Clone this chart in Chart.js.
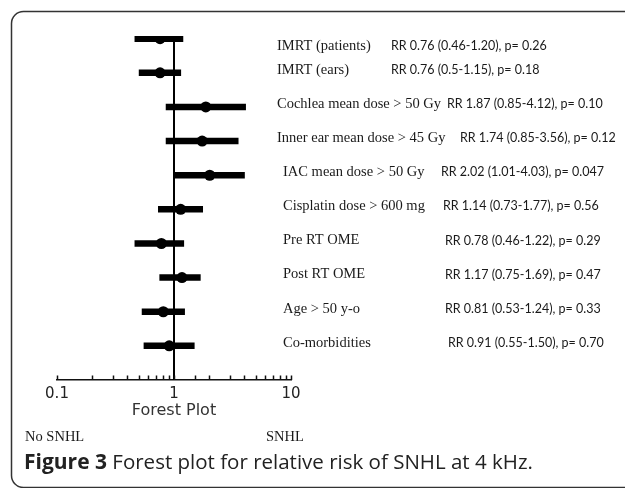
<!DOCTYPE html>
<html>
<head>
<meta charset="utf-8">
<script src="https://cdn.jsdelivr.net/npm/chart.js@4.4.0/dist/chart.umd.min.js"></script>
<style>
    html, body { margin: 0; padding: 0; background: #fff; overflow: hidden; }
    #wrap { width: 625px; height: 488px; }
</style>
</head>
<body>
<div id="wrap"><canvas id="forestChart" width="625" height="488"></canvas></div>
<script>
// Datos
const factors = ['IMRT (patients)', 'IMRT (ears)', 'Cochlea mean dose > 50 Gy', 'Inner ear mean dose > 45 Gy',
    'IAC mean dose > 50 Gy', 'Cisplatin dose > 600 mg', 'Pre RT OME', 'Post RT OME', 'Age > 50 y-o', 'Co-morbidities'];
const rr = [0.76, 0.76, 1.87, 1.74, 2.02, 1.14, 0.78, 1.17, 0.81, 0.91];
const ciLow = [0.46, 0.5, 0.85, 0.85, 1.01, 0.73, 0.46, 0.75, 0.53, 0.55];
const ciHigh = [1.20, 1.15, 4.12, 3.56, 4.03, 1.77, 1.22, 1.69, 1.24, 1.50];
const statLabels = ['RR 0.76 (0.46-1.20), p= 0.26', 'RR 0.76 (0.5-1.15), p= 0.18', 'RR 1.87 (0.85-4.12), p= 0.10',
    'RR 1.74 (0.85-3.56), p= 0.12', 'RR 2.02 (1.01-4.03), p= 0.047', 'RR 1.14 (0.73-1.77), p= 0.56',
    'RR 0.78 (0.46-1.22), p= 0.29', 'RR 1.17 (0.75-1.69), p= 0.47', 'RR 0.81 (0.53-1.24), p= 0.33',
    'RR 0.91 (0.55-1.50), p= 0.70'];
const tickLabels = ['0.1', '1', '10'];

// Posición horizontal de los textos (maquetación)
const labelX = [277, 277, 277, 277, 283, 283, 283, 283, 283, 283];
const statX = [391, 391, 447, 460, 441, 443, 445, 445, 445, 448];

const rows = factors.map((f, i) => i);

// Un dataset por intervalo de confianza + uno para los puntos
const ciDatasets = rows.map(i => ({
    data: [{ x: ciLow[i], y: i }, { x: ciHigh[i], y: i }],
    showLine: true,
    borderColor: '#000',
    borderWidth: 6.5,
    borderCapStyle: 'butt',
    pointRadius: 0
}));

const pointDataset = {
    data: rows.map(i => ({ x: rr[i], y: i })),
    pointRadius: 5.5,
    pointBackgroundColor: '#000',
    pointBorderWidth: 0
};

const forestDecor = {
    id: 'forestDecor',
    beforeDraw(chart) {
        const c = chart.ctx;
        c.save();
        c.fillStyle = '#fff';
        c.fillRect(0, 0, chart.width, chart.height);
        // marco redondeado (sólo izquierda, arriba y abajo quedan visibles)
        const l = 11.5, t = 11.5, b = 487.5, r = 12;
        c.strokeStyle = '#333';
        c.lineWidth = 1.5;
        c.beginPath();
        c.moveTo(700, t);
        c.lineTo(l + r, t);
        c.arcTo(l, t, l, t + r, r);
        c.lineTo(l, b - r);
        c.arcTo(l, b, l + r, b, r);
        c.lineTo(700, b);
        c.stroke();
        c.restore();
    },
    afterDatasetsDraw(chart) {
        const c = chart.ctx;
        const xs = chart.scales.x;
        const ys = chart.scales.y;
        const area = chart.chartArea;
        c.save();
        // línea de referencia RR = 1
        const x1 = xs.getPixelForValue(1);
        c.strokeStyle = '#000';
        c.lineWidth = 2;
        c.beginPath();
        c.moveTo(x1, area.top);
        c.lineTo(x1, area.bottom);
        c.stroke();
        // marcas del eje hacia arriba
        c.lineWidth = 1.5;
        c.strokeStyle = '#111';
        xs.ticks.forEach(tk => {
            const px = Math.round(xs.getPixelForValue(tk.value)) + 0.5;
            c.beginPath();
            c.moveTo(px, area.bottom);
            c.lineTo(px, area.bottom - 4.5);
            c.stroke();
        });
        // textos de cada factor
        c.fillStyle = '#1a1a1a';
        c.textBaseline = 'middle';
        rows.forEach(i => {
            const y = Math.max(ys.getPixelForValue(i) - 3, area.top + 10);
            c.font = '14.5px "Liberation Serif"';
            c.fillText(factors[i], labelX[i], y);
            c.font = '12.5px Lato';
            c.fillText(statLabels[i], statX[i], y);
        });
        c.font = '14.5px "Liberation Serif"';
        c.fillText('No SNHL', 25, 437);
        c.fillText('SNHL', 266, 437);
        // pie de figura
        c.textBaseline = 'alphabetic';
        c.fillStyle = '#222';
        c.font = 'bold 21px "Open Sans"';
        const head = 'Figure 3';
        c.fillText(head, 24, 469);
        const w = c.measureText(head).width;
        c.font = '20.5px "Open Sans"';
        c.fillText(' Forest plot for relative risk of SNHL at 4 kHz.', 24 + w, 469);
        c.restore();
    }
};

const ctx = document.getElementById('forestChart').getContext('2d');
const forestChart = new Chart(ctx, {
    type: 'scatter',
    data: { datasets: [...ciDatasets, pointDataset] },
    options: {
        responsive: false,
        animation: false,
        layout: { padding: { left: 57, right: 334, top: 36, bottom: 68 } },
        plugins: { legend: { display: false }, tooltip: { enabled: false } },
        scales: {
            x: {
                type: 'logarithmic',
                min: 0.1,
                max: 10,
                grid: { display: false, drawTicks: false },
                border: { display: true, color: '#111', width: 1.6 },
                ticks: {
                    autoSkip: false,
                    maxRotation: 0,
                    padding: 5,
                    color: '#222',
                    font: { family: 'DejaVu Sans', size: 15 },
                    callback: v => tickLabels.includes(String(v)) ? String(v) : ''
                },
                title: {
                    display: true,
                    text: 'Forest Plot',
                    color: '#333',
                    font: { family: 'DejaVu Sans', size: 16 },
                    padding: 0
                },
                afterFit: s => { s.height = 40; }
            },
            y: {
                type: 'linear',
                reverse: true,
                min: -0.08,
                max: 10.0,
                display: false
            }
        }
    },
    plugins: [forestDecor]
});
</script>
</body>
</html>
